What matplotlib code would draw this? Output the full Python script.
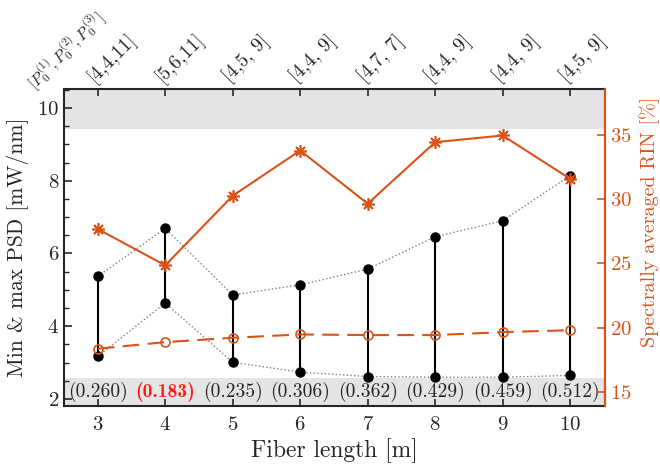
import numpy as np
import matplotlib
matplotlib.use('Agg')
import matplotlib.pyplot as plt
from matplotlib.ticker import MultipleLocator
import matplotlib.transforms as mtransforms

plt.rcParams['font.family'] = 'serif'
plt.rcParams['font.serif'] = ['cmr10']
plt.rcParams['mathtext.fontset'] = 'cm'
plt.rcParams['axes.unicode_minus'] = False
plt.rcParams['axes.formatter.use_mathtext'] = True

# data
fiber_len = [3, 4, 5, 6, 7, 8, 9, 10]
psd_max = [5.37, 6.69, 4.86, 5.14, 5.57, 6.46, 6.90, 8.14]
psd_min = [3.17, 4.64, 3.01, 2.74, 2.62, 2.60, 2.60, 2.65]
rin_star = [27.67, 24.84, 30.26, 33.78, 29.64, 34.43, 34.95, 31.58]
rin_circ = [18.35, 18.86, 19.20, 19.46, 19.41, 19.41, 19.64, 19.79]
ratio_labels = ['0.260', '0.183', '0.235', '0.306', '0.362', '0.429', '0.459', '0.512']
best_idx = 1
power_labels = ['[4,4,11]', '[5,6,11]', '[4,5, 9]', '[4,4, 9]',
                '[4,7, 7]', '[4,4, 9]', '[4,4, 9]', '[4,5, 9]']

orange = '#D95319'
spine_col = '#262626'

fig = plt.figure(figsize=(6.6, 4.66), dpi=100)
ax1 = fig.add_axes([0.097, 0.1288, 0.82, 0.6802])

# gray bands
ax1.axhspan(9.42, 11, color='#e4e4e4', lw=0, zorder=0)
ax1.axhspan(0, 2.57, color='#e4e4e4', lw=0, zorder=0)

# min/max
ax1.plot(fiber_len, psd_max, ':', color='gray', lw=1.0, zorder=2)
ax1.plot(fiber_len, psd_min, ':', color='gray', lw=1.0, zorder=2)
ax1.vlines(fiber_len, psd_min, psd_max, color='black', lw=1.5, zorder=3)
ax1.plot(fiber_len, psd_max, 'o', color='black', ms=6.5, zorder=4)
ax1.plot(fiber_len, psd_min, 'o', color='black', ms=6.5, zorder=4)

for i, (x, lab) in enumerate(zip(fiber_len, ratio_labels)):
    if i == best_idx:
        ax1.text(x, 2.2, '(%s)' % lab, color='#ff1a1a', family='cmb10',
                 ha='center', va='center', fontsize=14, zorder=5)
    else:
        ax1.text(x, 2.2, '(%s)' % lab, color=spine_col,
                 ha='center', va='center', fontsize=14, zorder=5)

ax1.set_xlim(2.5, 10.52)
ax1.set_ylim(1.81, 10.52)
ax1.set_xticks(fiber_len)
ax1.set_yticks([2, 4, 6, 8, 10])
ax1.yaxis.set_minor_locator(MultipleLocator(0.5))
ax1.tick_params(axis='x', direction='in', top=True, length=5, width=1.2,
                labelsize=15, pad=7, colors=spine_col)
ax1.tick_params(axis='y', which='major', direction='in', length=6, width=1.2,
                labelsize=15, colors=spine_col)
ax1.tick_params(axis='y', which='minor', direction='in', length=3.5, width=1.0,
                colors=spine_col)
ax1.set_xlabel('Fiber length [m]', fontsize=17, color=spine_col, labelpad=3)
ax1.set_ylabel('Min & max PSD [mW/nm]', fontsize=15.5, color=spine_col, labelpad=6)
for s in ax1.spines.values():
    s.set_color(spine_col)
    s.set_linewidth(1.5)

# RIN axis
ax2 = ax1.twinx()
ax2.plot(fiber_len, rin_circ, '--', color=orange, lw=1.5, dashes=(8, 4),
         marker='o', mfc='none', mec=orange, ms=6.5, mew=1.2, zorder=5)
ax2.plot(fiber_len, rin_star, '-', color=orange, lw=1.5,
         marker=(8, 2, 0), ms=9, mew=1.2, zorder=6)
ax2.set_ylim(13.89, 38.57)
ax2.set_yticks([15, 20, 25, 30, 35])
ax2.tick_params(axis='y', direction='in', length=6, width=1.2, colors=orange,
                labelsize=15)
ax2.set_ylabel('Spectrally averaged RIN [%]', fontsize=14.5, color=orange)
ax2.yaxis.set_label_coords(1.063, 0.58)
ax2.spines['right'].set_color(orange)
ax2.spines['right'].set_linewidth(1.5)
for k in ['left', 'top', 'bottom']:
    ax2.spines[k].set_visible(False)

# top labels
trans = mtransforms.blended_transform_factory(ax1.transData, ax1.transAxes)
for x, lab in zip(fiber_len, power_labels):
    ax1.text(x - 0.1, 1.032, lab, transform=trans, rotation=45,
             rotation_mode='anchor', ha='left', va='center', fontsize=14,
             color=spine_col)
ax1.text(2.0, 1.01, r'$[P_0^{(1)}\!, P_0^{(2)}\!, P_0^{(3)}]$', transform=trans,
         rotation=45, rotation_mode='anchor', ha='left', va='center',
         fontsize=11.5, color=spine_col, clip_on=False)

fig.savefig('out.png', dpi=100)
